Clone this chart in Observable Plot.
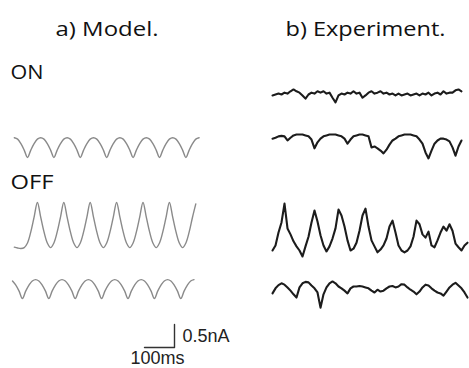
<!DOCTYPE html>
<html><head><meta charset="utf-8">
<script src="https://cdn.jsdelivr.net/npm/d3@7"></script>
<script src="https://cdn.jsdelivr.net/npm/@observablehq/plot@0.6"></script>
<style>html,body{margin:0;padding:0;background:#fff}#chart svg{display:block}</style>
</head><body><div id="chart"></div>
<script>
// ---- labels ----
const columnTitles = ["a) Model.", "b) Experiment."];
const rowLabels = ["ON", "OFF"];
const scaleBarLabels = ["0.5nA", "100ms"];
const scaleBar = {time: 100, current: 0.5}; // ms, nA

// ---- sampling intervals (ms) ----
const modelDt = 11;
const expDt = 10;

// ---- model traces (nA above trough) ----
const modelOn = [
  0.43,0.40,0.30,0.16,0,0.16,0.30,0.40,
  0.43,0.40,0.30,0.16,0,0.16,0.30,0.40,
  0.43,0.40,0.30,0.16,0,0.16,0.30,0.40,
  0.43,0.40,0.30,0.16,0,0.16,0.30,0.40,
  0.43,0.40,0.30,0.16,0,0.16,0.30,0.40,
  0.43,0.40,0.30,0.16,0,0.16,0.30,0.40,
  0.43,0.40,0.30,0.16,0,0.16,0.30,0.40,
  0.43];
const modelOff1 = [
  0.03,0.01,0,0.02,0.12,0.36,0.68,
  1.0,0.68,0.36,0.12,0.02,0.12,0.36,0.68,
  1.0,0.68,0.36,0.12,0.02,0.12,0.36,0.68,
  1.0,0.68,0.36,0.12,0.02,0.12,0.36,0.68,
  1.0,0.68,0.36,0.12,0.02,0.12,0.36,0.68,
  1.0,0.68,0.36,0.12,0.02,0.12,0.36,0.68,
  1.0,0.68,0.36,0.12,0.02,0.12,0.36,0.68,0.97];
const modelOff2 = [
  0.38,0.29,0.16,0,0.16,0.29,0.38,0.41,
  0.38,0.29,0.16,0,0.16,0.29,0.38,0.41,
  0.38,0.29,0.16,0,0.16,0.29,0.38,0.41,
  0.38,0.29,0.16,0,0.16,0.29,0.38,0.41,
  0.38,0.29,0.16,0,0.16,0.29,0.38,0.41,
  0.38,0.29,0.16,0,0.16,0.29,0.38,0.41,
  0.38,0.29,0.16,0,0.16,0.29,0.38,0.41];

// ---- experimental traces (nA relative to baseline) ----
const expOn1 = [-0.02,0,0.02,0,0.04,0.02,0.07,0.11,0.07,0.04,-0.02,-0.09,0,0.04,0.02,0.07,0.04,0.07,0.02,0.04,
  -0.07,-0.17,-0.02,0.02,0,0.04,0.02,0.07,0.02,0.04,-0.07,-0.02,0.04,0.07,0.02,0.04,0.07,0.02,0.04,0,
  0.02,-0.02,0.02,-0.02,0,0.02,-0.02,0,0.02,-0.02,0.02,0,0.04,-0.02,0.02,0.04,0,0.07,0.02,0.04,
  0.04,0.09,0.11,0.07];
const expOn2 = [-0.09,-0.07,-0.04,-0.03,-0.04,-0.13,-0.07,-0.02,0,0,0,-0.02,-0.04,-0.11,-0.30,-0.17,-0.09,-0.04,-0.02,0,
  0,0,-0.02,-0.04,-0.09,-0.20,-0.11,-0.04,-0.02,0,0,-0.02,-0.04,-0.28,-0.26,-0.30,-0.35,-0.41,-0.33,-0.22,
  -0.13,-0.09,-0.04,-0.02,0,0,0,-0.02,-0.04,-0.11,-0.20,-0.39,-0.52,-0.35,-0.20,-0.13,-0.09,-0.09,-0.11,-0.15,
  -0.28,-0.46,-0.26,-0.13];
const expOff1 = [0,0.11,0.39,0.61,1.02,0.48,0.35,0.20,0.09,0,
  -0.13,0.09,0.30,0.61,0.87,0.63,0.33,0.11,-0.02,0.09,
  0.26,0.48,0.89,0.76,0.52,0.22,0,0.04,0.17,0.43,
  0.76,0.91,0.52,0.22,0.09,-0.04,0.02,0.11,0.26,0.52,
  0.65,0.39,0.11,0,-0.04,0,0.09,0.30,0.65,0.57,
  0.35,0.28,0.41,0.11,0.07,0.22,0.39,0.52,0.43,0.57,
  0.43,0.15,0.07,0,0.11,0.17];
const expOff2 = [-0.15,-0.04,0.03,0.07,0.04,-0.02,-0.09,-0.17,-0.24,-0.02,
  0.07,0.10,0.09,0.02,-0.04,-0.13,-0.46,-0.17,-0.02,0.07,
  0.11,0.07,0,-0.04,-0.09,-0.15,-0.04,0,0,0.01,
  0,-0.02,-0.04,-0.09,-0.13,-0.07,-0.11,-0.09,-0.04,0,
  0.01,-0.02,0,0.05,0.04,-0.02,-0.07,-0.11,-0.17,-0.11,
  -0.02,0.04,0.02,-0.04,-0.09,-0.13,-0.15,-0.20,-0.11,-0.02,
  0.04,0.08,0.02,-0.04,-0.13,-0.24];

// ---- layout (pixels) ----
const W = 469, H = 368;
const pxPerNA = 46;               // 23 px = 0.5 nA
const msPerPx = 100 / 30;         // 30 px = 100 ms
const tx = px => px * msPerPx;
const ny = py => (H - py) / pxPerNA;

const traces = [
  {name: "modelOn",   kind: "model", values: modelOn,   dt: modelDt, x0: 13.8, base: 157},
  {name: "modelOff1", kind: "model", values: modelOff1, dt: modelDt, x0: 13.8, base: 248},
  {name: "modelOff2", kind: "model", values: modelOff2, dt: modelDt, x0: 12,   base: 298},
  {name: "expOn1",  kind: "exp", values: expOn1,  dt: expDt, x0: 272, base: 94},
  {name: "expOn2",  kind: "exp", values: expOn2,  dt: expDt, x0: 272, base: 134},
  {name: "expOff1", kind: "exp", values: expOff1, dt: expDt, x0: 272, base: 250},
  {name: "expOff2", kind: "exp", values: expOff2, dt: expDt, x0: 272, base: 286}
];
const rows = traces.flatMap(tr => tr.values.map((v, i) => ({
  name: tr.name, kind: tr.kind, t: tx(tr.x0) + i * tr.dt, v: ny(tr.base) + v
})));

const barX0 = tx(144), barY0 = ny(347);
const barPts = [
  {t: barX0, v: barY0},
  {t: barX0 + scaleBar.time, v: barY0},
  {t: barX0 + scaleBar.time, v: barY0 + scaleBar.current}
];

const titlePos = [{x: 55, w: 103}, {x: 285, w: 160}];
const rowPos = [{y: 78.3, w: 33}, {y: 188.3, w: 43}];

const chart = Plot.plot({
  width: W, height: H, margin: 0,
  x: {domain: [0, tx(W)], range: [0, W], axis: null},
  y: {domain: [0, H / pxPerNA], range: [H, 0], axis: null},
  style: {background: "#fff", overflow: "visible"},
  marks: [
    Plot.line(rows.filter(d => d.kind === "model"), {x: "t", y: "v", z: "name", stroke: "#8a8a8a", strokeWidth: 1.4, curve: "catmull-rom"}),
    Plot.line(rows.filter(d => d.kind === "exp"), {x: "t", y: "v", z: "name", stroke: "#1c1c1c", strokeWidth: 2.1, strokeLinejoin: "round"}),
    Plot.line(barPts, {x: "t", y: "v", stroke: "#333", strokeWidth: 1.4}),
    Plot.text(columnTitles, {x: (d, i) => tx(titlePos[i].x), y: ny(35), text: d => d, textAnchor: "start", lineAnchor: "bottom", fontSize: 20, fontFamily: "Open Sans", fill: "#111", className: "ttl"}),
    Plot.text(rowLabels, {x: tx(10), y: (d, i) => ny(rowPos[i].y), text: d => d, textAnchor: "start", lineAnchor: "bottom", fontSize: 20, fontFamily: "Open Sans", fill: "#111", className: "rowl"}),
    Plot.text(scaleBarLabels, {x: (d, i) => tx([182, 130][i]), y: (d, i) => ny([341, 363][i]), text: d => d, textAnchor: "start", lineAnchor: "bottom", fontSize: 18, fontFamily: "Liberation Sans, Arial", fill: "#222"})
  ]
});
document.getElementById("chart").appendChild(chart);

// stretch the headline texts to the widths seen in the reference
const svg = d3.select(chart);
svg.selectAll("g.ttl text").each(function() {
  const k = columnTitles.indexOf(this.textContent);
  if (k >= 0) d3.select(this).attr("textLength", titlePos[k].w).attr("lengthAdjust", "spacingAndGlyphs");
});
svg.selectAll("g.rowl text").each(function() {
  const k = rowLabels.indexOf(this.textContent);
  if (k >= 0) d3.select(this).attr("textLength", rowPos[k].w).attr("lengthAdjust", "spacingAndGlyphs");
});
</script>
</body></html>
